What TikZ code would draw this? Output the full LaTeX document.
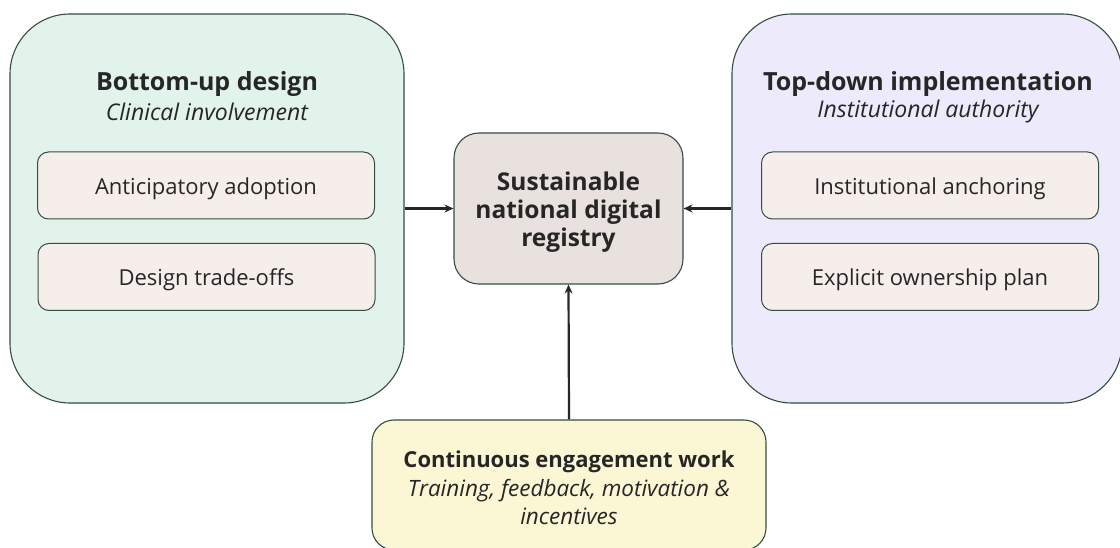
\documentclass[tikz,border=0pt]{standalone}
\usepackage{fontspec}
\setmainfont{Open Sans}
\usetikzlibrary{arrows.meta}
\definecolor{edge}{HTML}{344E40}
\definecolor{txt}{HTML}{262626}
\definecolor{mint}{HTML}{E2F3EB}
\definecolor{lav}{HTML}{EDEAFB}
\definecolor{chip}{HTML}{F5EEEB}
\definecolor{hub}{HTML}{E8E1DE}
\definecolor{cream}{HTML}{FBF6D3}
\tikzset{
  panel/.style={draw=edge, line width=1.1pt, rounded corners=60pt, inner sep=0pt},
  chipbox/.style={draw=edge, line width=1pt, fill=chip, rounded corners=11pt,
    minimum width=337pt, minimum height=67pt, inner sep=0pt, text=txt,
    font=\fontsize{22}{26}\selectfont},
  hubbox/.style={draw=edge, line width=1.1pt, fill=hub, rounded corners=25pt,
    minimum width=229pt, minimum height=151pt, inner sep=0pt},
  hubtext/.style={text=txt, align=center, inner sep=0pt,
    font=\fontsize{24.5}{28}\selectfont\bfseries},
  ttl/.style={text=txt, inner sep=0pt, font=\fontsize{25}{29}\selectfont\bfseries},
  sub/.style={text=txt, inner sep=0pt, font=\fontsize{23}{27}\selectfont\itshape},
  link/.style={draw=txt, line width=2.2pt, -{Stealth[length=9pt,width=8pt]}}
}
% chip labels: baseline set a fixed distance below the chip centre
\newcommand{\chiplabel}[1]{\raisebox{-9pt}[0pt][0pt]{#1}}
\begin{document}
\begin{tikzpicture}[x=1pt,y=-1pt]
\useasboundingbox (0,0) rectangle (1120,548);
\begin{scope}
\clip (0,0) rectangle (1120,548);
% the two side panels
\node[panel, fill=mint, minimum width=394pt, minimum height=389pt] (bu) at (207,208.5) {};
\node[panel, fill=lav, minimum width=390pt, minimum height=389pt] (td) at (927,208.5) {};
% the hub
\node[hubbox] (hub) at (568.5,208.5) {};
% engagement box at the bottom
\node[draw=edge, line width=1.1pt, fill=cream, rounded corners=22pt, minimum width=394pt,
  minimum height=130pt, inner sep=0pt] (ce) at (569,485) {};
\end{scope}
\node[hubtext] (hubT) at (568.5,212) {Sustainable\\national digital\\registry};
% panel headings
\node[ttl] (buT) at (207,84) {Bottom-up design};
\node[sub] (buS) at (207,112) {Clinical involvement};
\node[ttl] (tdT) at (928,84) {Top-down implementation};
\node[sub] (tdS) at (928,112) {Institutional authority};
% items inside the panels
\node[chipbox] (aa) at (206,185.5) {\chiplabel{Anticipatory adoption}};
\node[chipbox] (dt) at (206.5,277) {\chiplabel{Design trade-offs}};
\node[chipbox] (ia) at (930,185.5) {\chiplabel{Institutional anchoring}};
\node[chipbox] (eo) at (930,277) {\chiplabel{Explicit ownership plan}};
% engagement text
\node[ttl, font=\fontsize{22}{26}\selectfont\bfseries] (ceT) at (569,462) {Continuous engagement work};
\node[sub, align=center, font=\fontsize{22.5}{28}\selectfont\itshape] (ceS) at (569,502) {Training, feedback, motivation \&\\incentives};
% connectors into the hub
\draw[link] (bu.east |- hub.west) -- (hub.west);
\draw[link] (td.west |- hub.east) -- (hub.east);
\draw[link] (ce.north) -- (hub.south);
\end{tikzpicture}
\end{document}
